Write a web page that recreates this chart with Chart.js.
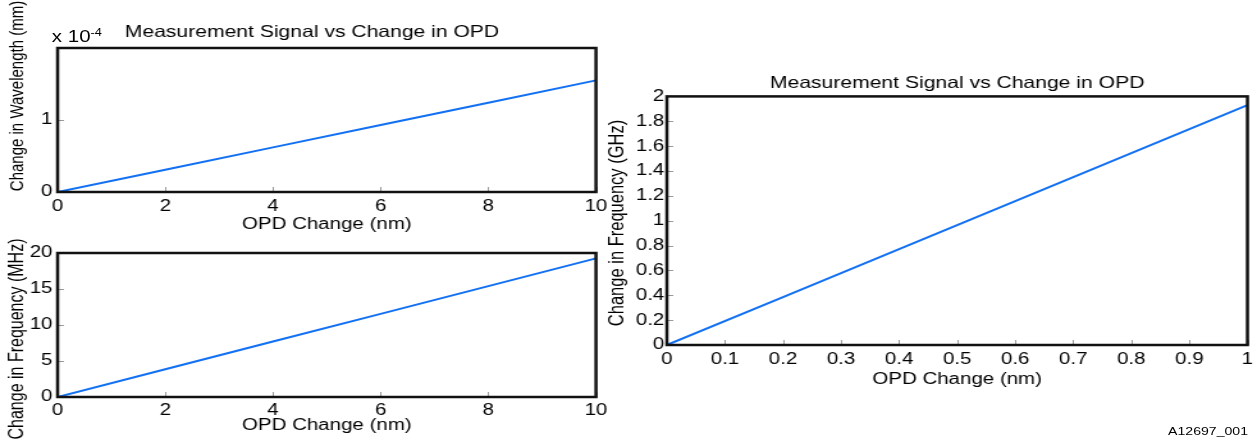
<!DOCTYPE html>
<html>
<head>
<meta charset="utf-8">
<script src="https://cdn.jsdelivr.net/npm/chart.js@4.4.1/dist/chart.umd.min.js"></script>
<style>
  html, body { margin: 0; padding: 0; background: #fff; overflow: hidden; }
  body { width: 1255px; height: 440px; position: relative; }
  /* the original figure is stretched sideways, so the whole page is too */
  #wrap { position: absolute; left: 0; top: 0; width: 981px; height: 440px;
          transform: scaleX(1.28); transform-origin: 0 0; }
  canvas { position: absolute; }
  .txt { position: absolute; font-family: "Liberation Sans", Arial, sans-serif; color: #000; white-space: nowrap; }
  #expo { left: 40.5px; top: 28.5px; font-size: 16px; line-height: 16px; }
  #expo sup { font-size: 10px; vertical-align: 6px; line-height: 0; }
  #fig { right: 6px; top: 426px; font-size: 11px; line-height: 11px; }
</style>
</head>
<body>
<div id="wrap">
  <canvas id="chartWave" width="488" height="240" style="left:0;top:0"></canvas>
  <canvas id="chartMhz" width="488" height="208" style="left:0;top:232px"></canvas>
  <canvas id="chartGhz" width="524" height="340" style="left:460px;top:60px"></canvas>
  <div class="txt" id="expo">x 10<sup>-4</sup></div>
  <div class="txt" id="fig">A12697_001</div>
</div>
<script>
const opdSmall = [0, 2, 4, 6, 8, 10];
const wavelengthChange = [0, 0.31, 0.62, 0.93, 1.24, 1.55]; // x 10^-4 mm
const freqMhz = [0, 3.85, 7.7, 11.55, 15.4, 19.25];

// OPD change (nm) for the large plot
const opdLarge = [0, 0.2, 0.4, 0.6, 0.8, 1.0];
const freqGhz = [0, 0.386, 0.772, 1.158, 1.544, 1.93];

// tick labels
const opdSmallTicks = [0, 2, 4, 6, 8, 10];
const waveTicks = [0, 1];
const mhzTicks = [0, 5, 10, 15, 20];
const opdLargeTicks = [0, 0.1, 0.2, 0.3, 0.4, 0.5, 0.6, 0.7, 0.8, 0.9, 1];
const ghzTicks = [0, 0.2, 0.4, 0.6, 0.8, 1, 1.2, 1.4, 1.6, 1.8, 2];

const titleText = "Measurement Signal vs Change in OPD";
const xLabel = "OPD Change (nm)";

const FONT = "'Liberation Sans', Arial, sans-serif";
const lineBlue = "#1270f2";
const textColor = "#000";

// black box round the plot plus small grey inward ticks, like the original
const framePlugin = {
    id: "frame",
    afterDatasetsDraw(chart) {
        const { ctx, chartArea: a, scales } = chart;
        ctx.save();
        ctx.strokeStyle = "#9a9a9a";
        ctx.lineWidth = 1;
        ctx.beginPath();
        scales.x.ticks.forEach((t) => {
            const px = Math.round(scales.x.getPixelForValue(t.value)) + 0.5;
            ctx.moveTo(px, a.bottom);
            ctx.lineTo(px, a.bottom - 5);
        });
        scales.y.ticks.forEach((t) => {
            const py = Math.round(scales.y.getPixelForValue(t.value)) + 0.5;
            ctx.moveTo(a.left, py);
            ctx.lineTo(a.left + 5, py);
        });
        ctx.stroke();
        ctx.strokeStyle = "#111";
        ctx.lineWidth = 2.5;
        ctx.strokeRect(a.left, a.top, a.right - a.left, a.bottom - a.top);
        ctx.restore();
    }
};

// rotated y axis label; in the original it is not centred on the plot
const yLabelPlugin = {
    id: "yLabel",
    afterDraw(chart, args, opts) {
        const ctx = chart.ctx;
        ctx.save();
        ctx.translate(opts.x, opts.y);
        ctx.rotate(-Math.PI / 2);
        ctx.font = opts.size + "px " + FONT;
        ctx.fillStyle = textColor;
        ctx.textAlign = "center";
        ctx.textBaseline = "middle";
        ctx.fillText(opts.text, 0, 0);
        ctx.restore();
    }
};

function toPoints(xs, ys) {
    return xs.map((x, i) => ({ x: x, y: ys[i] }));
}

function fmt(v) {
    return String(Math.round(v * 100) / 100);
}

function makeChart(id, cfg) {
    const ctx = document.getElementById(id).getContext("2d");
    return new Chart(ctx, {
        type: "line",
        data: {
            datasets: [{
                data: toPoints(cfg.xs, cfg.ys),
                borderColor: lineBlue,
                borderWidth: 2,
                pointRadius: 0,
                fill: false,
                tension: 0
            }]
        },
        options: {
            responsive: false,
            animation: false,
            layout: { padding: cfg.padding },
            plugins: {
                legend: { display: false },
                tooltip: { enabled: false },
                title: cfg.title ? {
                    display: true,
                    text: cfg.title,
                    fullSize: cfg.titleFull,
                    color: textColor,
                    font: { family: FONT, size: 16.5, weight: "normal" },
                    padding: cfg.titlePad
                } : { display: false },
                yLabel: cfg.yLabel
            },
            scales: {
                x: {
                    type: "linear",
                    min: cfg.xTicks[0],
                    max: cfg.xTicks[cfg.xTicks.length - 1],
                    afterBuildTicks: (s) => { s.ticks = cfg.xTicks.map((v) => ({ value: v })); },
                    afterFit: (s) => { s.height = cfg.xHeight; },
                    grid: { display: false, drawTicks: false },
                    border: { display: false },
                    ticks: { color: textColor, font: { family: FONT, size: 16 }, padding: cfg.xTickPad, maxRotation: 0, autoSkip: false, callback: fmt },
                    title: { display: true, text: xLabel, color: textColor, font: { family: FONT, size: 16 }, padding: { top: 0, bottom: cfg.xTitlePad } }
                },
                y: {
                    type: "linear",
                    min: cfg.yMin,
                    max: cfg.yMax,
                    afterBuildTicks: (s) => { s.ticks = cfg.yTicks.map((v) => ({ value: v })); },
                    afterFit: (s) => { s.width = cfg.yWidth; },
                    grid: { display: false, drawTicks: false },
                    border: { display: false },
                    ticks: { color: textColor, font: { family: FONT, size: 16 }, padding: cfg.yTickPad, autoSkip: false, callback: fmt },
                    title: { display: false }
                }
            }
        },
        plugins: [framePlugin, yLabelPlugin]
    });
}

makeChart("chartWave", {
    xs: opdSmall, ys: wavelengthChange,
    xTicks: opdSmallTicks, yTicks: waveTicks, yMin: 0, yMax: 2,
    yLabel: { text: "Change in Wavelength (mm)", x: 13.7, y: 96, size: 15 },
    title: titleText, titleFull: true, titlePad: { top: 23, bottom: 5.2 },
    padding: { left: 21.9, right: 22.4, top: 0, bottom: 0 },
    yWidth: 23.1, yTickPad: 4,
    xHeight: 48, xTickPad: 5, xTitlePad: 5.5
});

makeChart("chartMhz", {
    xs: opdSmall, ys: freqMhz,
    xTicks: opdSmallTicks, yTicks: mhzTicks, yMin: 0, yMax: 20,
    yLabel: { text: "Change in Frequency (MHz)", x: 13.7, y: 107, size: 16 },
    title: null,
    padding: { left: 0, right: 22.4, top: 21, bottom: 0 },
    yWidth: 45, yTickPad: 4,
    xHeight: 43, xTickPad: 4, xTitlePad: 5
});

makeChart("chartGhz", {
    xs: opdLarge, ys: freqGhz,
    xTicks: opdLargeTicks, yTicks: ghzTicks, yMin: 0, yMax: 2,
    yLabel: { text: "Change in Frequency (GHz)", x: 22, y: 163, size: 16.5 },
    title: titleText, titleFull: false, titlePad: { top: 14, bottom: 2.6 },
    padding: { left: 0, right: 7.4, top: 0, bottom: 0 },
    yWidth: 61, yTickPad: 2,
    xHeight: 55, xTickPad: 5, xTitlePad: 10.5
});
</script>
</body>
</html>
